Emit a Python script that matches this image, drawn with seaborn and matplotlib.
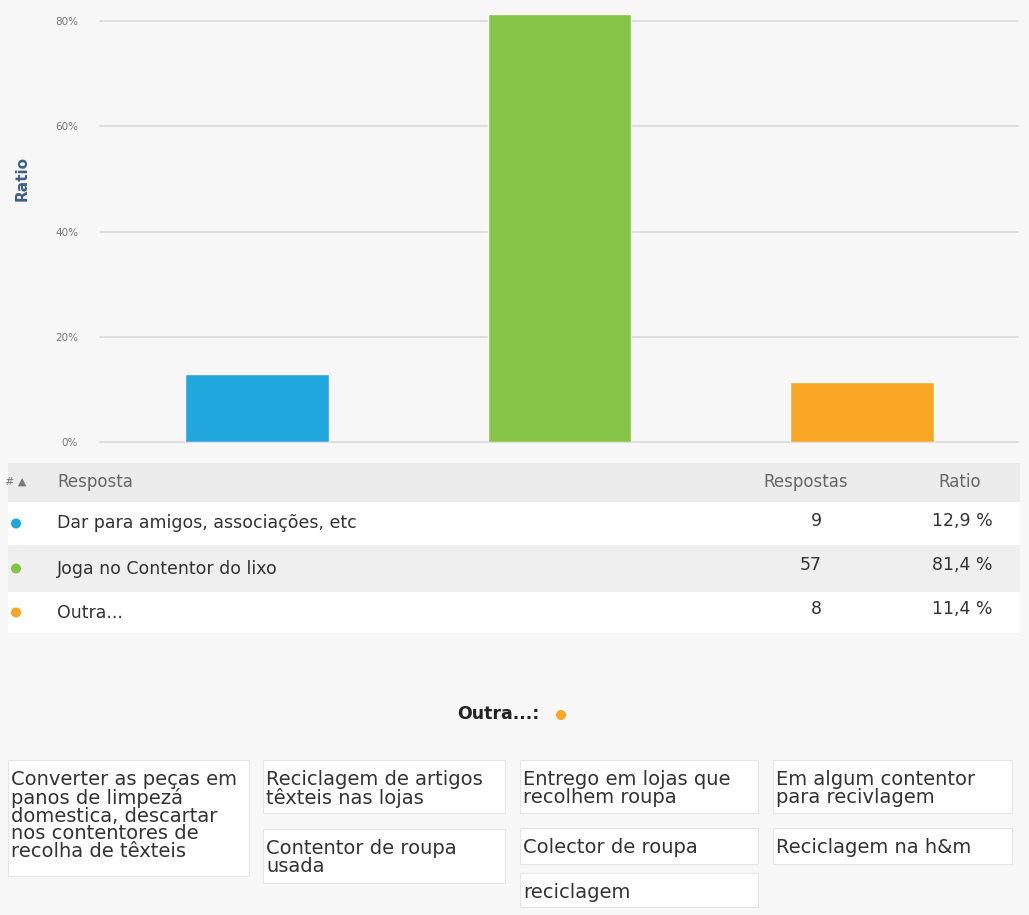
import numpy as np
import pandas as pd
import seaborn as sns
import matplotlib.pyplot as plt
from matplotlib.patches import Rectangle, Circle

# survey results
answers = ["Dar para amigos, associações, etc", "Joga no Contentor do lixo", "Outra..."]
counts = [9, 57, 8]
ratios = [12.9, 81.4, 11.4]
ratio_labels = ["12,9 %", "81,4 %", "11,4 %"]
colors = ["#21a6de", "#85c446", "#f8a624"]
yticks = [0, 20, 40, 60, 80]

# free text answers for "Outra..."
other_texts = [
    "Converter as peças em\npanos de limpezá\ndomestica, descartar\nnos contentores de\nrecolha de têxteis",
    "Reciclagem de artigos\ntêxteis nas lojas",
    "Contentor de roupa\nusada",
    "Entrego em lojas que\nrecolhem roupa",
    "Colector de roupa",
    "reciclagem",
    "Em algum contentor\npara recivlagem",
    "Reciclagem na h&m",
]
# box layout in page pixels (x0, y0, x1, y1)
other_boxes = [
    (8, 760, 249, 876),
    (263, 760, 505, 813),
    (263, 829, 505, 883),
    (520, 760, 758, 813),
    (520, 828, 758, 864),
    (520, 873, 758, 907),
    (773, 760, 1012, 813),
    (773, 828, 1012, 864),
]

W, H = 1029, 915
BG = "#f7f7f7"

sns.set_style("white")
plt.rcParams["font.family"] = ["DejaVu Sans"]

fig = plt.figure(figsize=(W / 100, H / 100), dpi=100, facecolor=BG)


def px_axes(x0, y0, x1, y1):
    return fig.add_axes([x0 / W, 1 - y1 / H, (x1 - x0) / W, (y1 - y0) / H])


# ---- bar chart ----
ax = px_axes(106, 8, 1013, 442)
ax.set_facecolor("none")
df = pd.DataFrame({"answer": answers, "ratio": ratios})
sns.barplot(data=df, x="answer", y="ratio", hue="answer", palette=colors,
            legend=False, width=0.476, saturation=1, ax=ax, zorder=3)
ax.set_xlim(-0.5, 2.5)
ax.set_ylim(0, 82.5)
ax.set_yticks(yticks)
ax.set_yticklabels([f"{t}%" for t in yticks], fontsize=7.5, color="#777777")
ax.tick_params(axis="y", length=0, pad=20)
ax.tick_params(axis="x", length=6, color="#cccccc", labelbottom=False)
for t in yticks:
    ax.axhline(t, xmin=-6 / 907, xmax=1 + 5 / 907, color="#d9d9d9", lw=1.2,
               zorder=1, clip_on=False)
for s in ax.spines.values():
    s.set_visible(False)
ax.set_xlabel("")
ax.set_ylabel("Ratio", fontsize=11, fontweight="bold", color="#3e5f86")
ax.yaxis.set_label_coords(-0.084, 0.608)

# ---- page overlay: table and text boxes ----
pg = fig.add_axes([0, 0, 1, 1], zorder=-1)
pg.set_xlim(0, W)
pg.set_ylim(H, 0)
pg.axis("off")

# header band
pg.add_patch(Rectangle((8, 463), 1012, 39, facecolor="#ececec", edgecolor="none"))
pg.text(5, 482, "# ▲", fontsize=8, color="#777777", va="center")
pg.text(57, 482, "Resposta", fontsize=12, color="#666666", va="center")
pg.text(806, 482, "Respostas", fontsize=12, color="#666666", va="center", ha="center")
pg.text(960, 482, "Ratio", fontsize=12, color="#666666", va="center", ha="center")

row_tops = [502, 545, 592]
row_bottoms = [545, 592, 633]
row_fill = ["white", "#efefef", "white"]
for i, ans in enumerate(answers):
    y0, y1 = row_tops[i], row_bottoms[i]
    yc = (y0 + y1) / 2
    pg.add_patch(Rectangle((8, y0), 1012, y1 - y0, facecolor=row_fill[i], edgecolor="none"))
    pg.add_patch(Circle((16, yc), 5, facecolor=colors[i], edgecolor="none"))
    pg.text(57, yc, ans, fontsize=12.5, color="#333333", va="center")
    pg.text(822, yc - 3, str(counts[i]), fontsize=12.5, color="#333333", va="center", ha="right")
    pg.text(993, yc - 3, ratio_labels[i], fontsize=12.5, color="#333333", va="center", ha="right")

# "Outra..." heading
pg.text(540, 714, "Outra...:", fontsize=12.5, fontweight="bold", color="#222222",
        va="center", ha="right")
pg.add_patch(Circle((561, 715), 5, facecolor=colors[2], edgecolor="none"))

for txt, (x0, y0, x1, y1) in zip(other_texts, other_boxes):
    pg.add_patch(Rectangle((x0, y0), x1 - x0, y1 - y0, facecolor="white",
                           edgecolor="#e6e6e6", lw=0.8))
    pg.text(x0 + 3, y0 + 10, txt, fontsize=14, color="#333333", va="top",
            ha="left", linespacing=0.92)

fig.savefig("out.png", dpi=100, facecolor=BG)
